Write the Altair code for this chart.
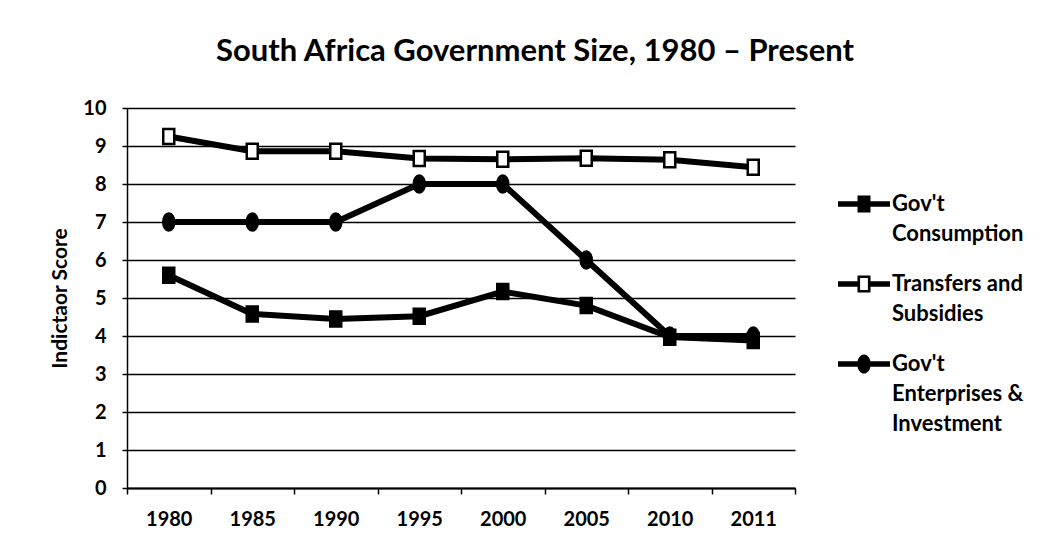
import altair as alt
import pandas as pd

years = ["1980", "1985", "1990", "1995", "2000", "2005", "2010", "2011"]
series_names = ["Gov't Consumption", "Transfers and Subsidies", "Gov't Enterprises & Investment"]
consumption = [5.6, 4.58, 4.45, 4.52, 5.17, 4.8, 3.97, 3.88]
transfers = [9.25, 8.86, 8.86, 8.67, 8.65, 8.68, 8.64, 8.44]
enterprises = [7, 7, 7, 8, 8, 6, 4, 4]

rows = []
for name, vals in zip(series_names, [consumption, transfers, enterprises]):
    for y, v in zip(years, vals):
        rows.append({"year": y, "series": name, "score": v})
df = pd.DataFrame(rows)

FONT = "Lato"

# plot markers (slightly tall, as in the reference)
mk_square = "M-0.55,-0.75L0.55,-0.75L0.55,0.75L-0.55,0.75Z"
mk_ellipse = "M0,-0.85A0.55,0.85 0 1,1 0,0.85A0.55,0.85 0 1,1 0,-0.85Z"

# legend symbols: line segment + marker, as filled custom paths
sym_cons = ("M-1,-0.11L-0.24,-0.11L-0.24,0.11L-1,0.11Z"
            "M-0.25,-0.33L0.25,-0.33L0.25,0.33L-0.25,0.33Z"
            "M0.24,-0.11L1,-0.11L1,0.11L0.24,0.11Z")
sym_trans = ("M-1,-0.11L-0.25,-0.11L-0.25,0.11L-1,0.11Z"
             "M-0.25,-0.33L0.25,-0.33L0.25,0.33L-0.25,0.33Z"
             "M-0.15,-0.23L-0.15,0.23L0.15,0.23L0.15,-0.23Z"
             "M0.25,-0.11L1,-0.11L1,0.11L0.25,0.11Z")
sym_ent = ("M-1,-0.11L1,-0.11L1,0.11L-1,0.11Z"
           "M0,-0.37A0.26,0.37 0 1,1 0,0.37A0.26,0.37 0 1,1 0,-0.37Z")

label_expr = ("datum.label == \"Gov't Consumption\" ? [\"Gov't\", \"Consumption\"] : "
              "datum.label == \"Transfers and Subsidies\" ? [\"Transfers and\", \"Subsidies\"] : "
              "[\"Gov't\", \"Enterprises &\", \"Investment\"]")

x_enc = alt.X("year:N", sort=years,
              scale=alt.Scale(type="band", paddingInner=0, paddingOuter=0),
              axis=alt.Axis(title=None, tickBand="extent", labelAngle=0))
y_enc = alt.Y("score:Q", scale=alt.Scale(domain=[0, 10], nice=False),
              axis=alt.Axis(title="Indictaor Score", values=list(range(0, 11)), format="d"))

base = alt.Chart(df)

lines = base.mark_line(color="black", strokeWidth=6).encode(
    x=x_enc, y=y_enc, detail="series:N")

points = base.mark_point(filled=False, stroke="black", strokeWidth=2.5, opacity=1, size=400).encode(
    x=x_enc, y=y_enc,
    shape=alt.Shape("series:N", scale=alt.Scale(domain=series_names, range=[mk_square, mk_square, mk_ellipse]), legend=None),
    fill=alt.Fill("series:N", scale=alt.Scale(domain=series_names, range=["black", "white", "black"]), legend=None),
)

legend_layer = base.mark_point(filled=True, color="black", opacity=0).encode(
    x=x_enc, y=y_enc,
    shape=alt.Shape("series:N",
                    scale=alt.Scale(domain=series_names, range=[sym_cons, sym_trans, sym_ent]),
                    legend=alt.Legend(title=None, orient="none", legendX=711, legendY=70,
                                      symbolSize=2704, symbolOpacity=1, symbolFillColor="black",
                                      symbolStrokeWidth=0,
                                      labelExpr=label_expr, labelFont=FONT, labelFontSize=22,
                                      labelFontWeight="bold", labelColor="black",
                                      labelLimit=300, labelOffset=2,
                                      gridAlign="each", rowPadding=13, labelBaseline="middle")),
)

chart = alt.layer(lines, points, legend_layer).resolve_scale(
    shape="independent"
).properties(
    width=668, height=380,
    padding={"left": 127, "top": 108, "right": 263, "bottom": 55},
    autosize=alt.AutoSizeParams(type="none"),
    title=alt.TitleParams("South Africa Government Size, 1980 \u2013 Present",
                          font=FONT, fontSize=31, fontWeight="bold", color="black",
                          anchor="middle", dx=74, offset=30),
    background="white",
).configure(
    style={"guide-label": {"lineHeight": 30}}
).configure_view(stroke=None).configure_axis(
    labelFont=FONT, labelFontSize=20, labelFontWeight="bold", labelColor="black",
    titleFont=FONT, titleFontSize=21, titleFontWeight="bold", titleColor="black",
    domainColor="black", domainWidth=1.5, tickColor="black", tickWidth=1.5,
    gridColor="black", gridWidth=1.5, gridOpacity=1,
).configure_axisX(grid=False, tickSize=6, labelPadding=15, domainWidth=2).configure_axisY(
    grid=True, tickSize=5, labelPadding=16, titlePadding=12, domainWidth=1.5
)

chart.save("out.html", embed_options={"renderer": "svg", "actions": False})
